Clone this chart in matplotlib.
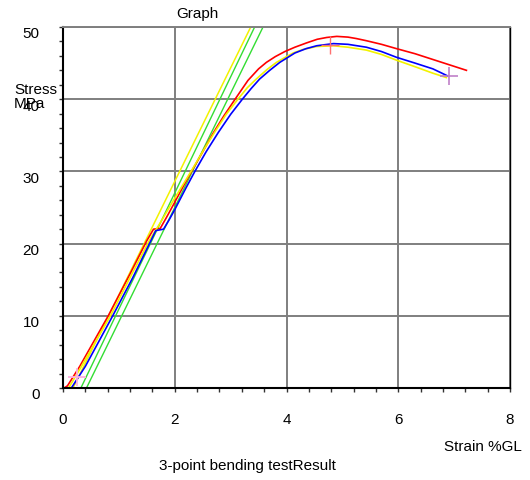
import matplotlib
matplotlib.use("Agg")
import matplotlib.pyplot as plt
from matplotlib.ticker import MultipleLocator
from matplotlib.transforms import ScaledTranslation

plt.rcParams["font.family"] = ["Liberation Sans", "DejaVu Sans"]

# test curves (strain %GL, stress MPa)
red_x = [0.02, 0.08, 0.3, 0.81, 1.2, 1.5, 1.62, 1.74, 1.85, 1.97, 2.15, 2.30, 2.50, 2.68,
         2.88, 3.08, 3.31, 3.50, 3.64, 3.80, 3.97, 4.15, 4.36, 4.55, 4.72, 4.90, 5.10,
         5.25, 5.43, 5.70, 5.97, 6.30, 6.62, 6.90, 7.22]
red_y = [0, 0.3, 3.0, 10, 15.8, 20.4, 22.0, 22.1, 23.6, 25.3, 27.9, 30, 32.7, 35.2,
         37.7, 40, 42.6, 44.2, 45.1, 45.9, 46.6, 47.2, 47.8, 48.3, 48.55, 48.7, 48.6,
         48.4, 48.1, 47.6, 47.0, 46.3, 45.5, 44.8, 44.0]

yellow_x = [0.0, 0.1, 0.3, 0.85, 1.2, 1.55, 1.75, 2.0, 2.15, 2.33, 2.52, 2.72, 2.92,
            3.13, 3.30, 3.46, 3.65, 3.82, 4.0, 4.12, 4.30, 4.54, 4.84, 5.10, 5.43,
            5.70, 5.97, 6.30, 6.62, 6.86]
yellow_y = [0, 0, 2.6, 10, 15.3, 20.5, 23, 26.3, 28.2, 30.5, 33, 35.5, 37.9,
            40, 41.6, 42.8, 44.1, 45.1, 45.9, 46.4, 46.9, 47.3, 47.4, 47.2, 46.8,
            46.2, 45.4, 44.5, 43.6, 43.0]

blue_x = [0.05, 0.15, 0.4, 0.89, 1.25, 1.56, 1.66, 1.80, 1.90, 2.0, 2.10, 2.20, 2.36,
          2.56, 2.78, 3.0, 3.21, 3.37, 3.52, 3.70, 3.88, 4.15, 4.35, 4.54, 4.84, 5.10,
          5.43, 5.70, 5.97, 6.30, 6.62, 6.89]
blue_y = [0, 0, 3, 10, 15.3, 20.2, 21.8, 22.0, 23.3, 24.7, 26.2, 27.7, 30,
          32.7, 35.4, 37.9, 40, 41.5, 42.8, 44.0, 45.1, 46.4, 47.0, 47.4, 47.7, 47.6,
          47.2, 46.6, 45.8, 45.0, 44.2, 43.2]

# modulus (tangent) lines
yellow_line_x = [0.18, 3.36]
yellow_line_y = [0, 50]
green1_x = [0.32, 3.43]
green1_y = [0, 50]
green2_x = [0.42, 3.58]
green2_y = [0, 50]

# result markers
start_pt = (0.25, 1.5)
peak_pt = (4.78, 47.5)
break_pt = (6.9, 43.2)

W, H = 530, 481
fig = plt.figure(figsize=(W / 100, H / 100), dpi=100)
ax = fig.add_axes([63 / W, 1 - 389 / H, (510 - 63) / W, (389 - 28) / H])

ax.plot(green1_x, green1_y, color="#33dd33", lw=1.0)
ax.plot(green2_x, green2_y, color="#33dd33", lw=1.0)
ax.plot(yellow_line_x, yellow_line_y, color="#f2f200", lw=1.1)
ax.plot(red_x, red_y, color="#ff0000", lw=1.2)
ax.plot(yellow_x, yellow_y, color="#f2f200", lw=1.2)
ax.plot(blue_x, blue_y, color="#0000ff", lw=1.2)

ax.plot(*start_pt, marker="+", ms=13, mew=1.3, color="#ffb0e0")
ax.plot(*peak_pt, marker="+", ms=13, mew=1.0, color="#ff7070")
ax.plot(*break_pt, marker="+", ms=13, mew=1.2, color="#c080c8")

ax.set_xlim(0, 8)
ax.set_ylim(0, 50)
ax.xaxis.set_major_locator(MultipleLocator(2))
ax.xaxis.set_minor_locator(MultipleLocator(0.4))
ax.yaxis.set_major_locator(MultipleLocator(10))
ax.yaxis.set_minor_locator(MultipleLocator(2))
ax.tick_params(which="both", direction="out", length=3, width=1, color="#333333",
               labelsize=11)
ax.tick_params(axis="x", pad=14)
ax.tick_params(axis="y", pad=14)
ax.grid(True, which="major", color="#7f7f7f", lw=1.4)
ax.set_axisbelow(True)

# y tick labels sit a little below their ticks in the original
shift = ScaledTranslation(0, -5 / 100, fig.dpi_scale_trans)
for lbl in ax.get_yticklabels():
    lbl.set_transform(lbl.get_transform() + shift)

ax.spines["left"].set_linewidth(1.5)
ax.spines["bottom"].set_linewidth(1.5)
ax.spines["right"].set_linewidth(1.0)
ax.spines["top"].set_color("#7f7f7f")
ax.spines["top"].set_linewidth(1.4)

fig.text(197 / W, 1 - 14 / H, "Graph", ha="center", va="center", fontsize=11)
fig.text(14 / W, 1 - 90 / H, "Stress", ha="left", va="center", fontsize=11)
fig.text(14 / W, 1 - 104 / H, "MPa", ha="left", va="center", fontsize=11)
fig.text(522 / W, 1 - 447 / H, "Strain %GL", ha="right", va="center", fontsize=11)
fig.text(247 / W, 1 - 466 / H, "3-point bending testResult", ha="center", va="center",
         fontsize=11)

fig.savefig("out.png", dpi=100)
